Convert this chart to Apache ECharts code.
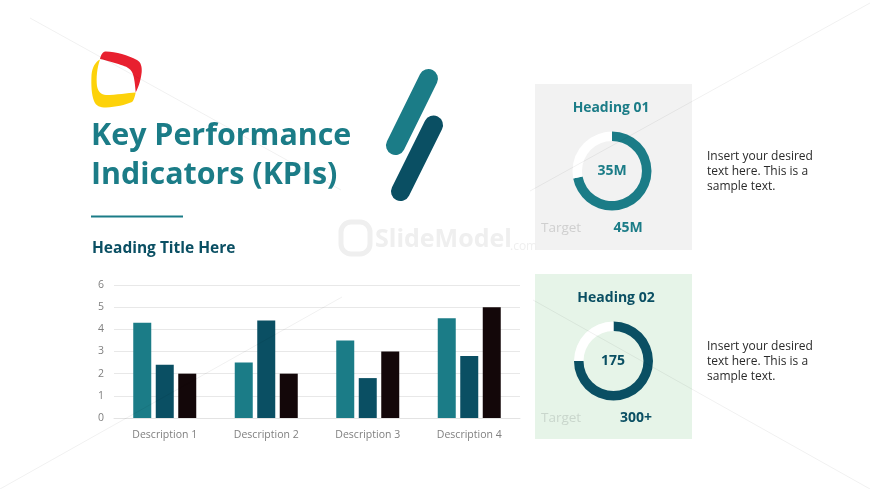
<!DOCTYPE html>
<html>
<head>
<meta charset="utf-8">
<title>Key Performance Indicators (KPIs)</title>
<style>
	html, body { margin: 0; padding: 0; background: #fff; }
	#main { width: 870px; height: 489px; }
</style>
<script src="https://cdn.jsdelivr.net/npm/echarts@6/dist/echarts.min.js"></script>
</head>
<body>
<div id="main"></div>
<script>
var categories = ["Description 1", "Description 2", "Description 3", "Description 4"];
var series1 = [4.3, 2.5, 3.5, 4.5];
var series2 = [2.4, 4.4, 1.8, 2.8];
var series3 = [2, 2, 3, 5];
var donut1 = [72, 28];
var donut2 = [75, 25];

var TEAL = "#1b7c87";
var DARK = "#0a4f63";
var BLACK = "#130709";
var FAINT = "rgba(0,0,0,0.06)";
var FONT = "'Open Sans', 'Noto Sans', sans-serif";

function label(text, x, y, size, color, weight, align) {
	return {
		type: "text",
		z: 10,
		silent: true,
		style: {
			x: x,
			y: y,
			text: text,
			fill: color,
			font: (weight || "normal") + " " + size + "px " + FONT,
			textAlign: align || "left",
			textVerticalAlign: "middle",
			lineHeight: 15
		}
	};
}

function stroke(x1, y1, x2, y2, color, width, cap, z) {
	return {
		type: "line",
		silent: true,
		z: z || 1,
		shape: { x1: x1, y1: y1, x2: x2, y2: y2 },
		style: { stroke: color, lineWidth: width, lineCap: cap || "butt" }
	};
}

function card(x, y, w, h, color) {
	return {
		type: "rect",
		silent: true,
		z: 0,
		shape: { x: x, y: y, width: w, height: h },
		style: { fill: color }
	};
}

// logo outline: start point, then cubic segments, flattened for a polygon
function flatten(start, segs) {
	var pts = [start];
	var p = start;
	segs.forEach(function(s) {
		for (var i = 1; i <= 8; i++) {
			var t = i / 8, u = 1 - t;
			pts.push([
				u * u * u * p[0] + 3 * u * u * t * s[0] + 3 * u * t * t * s[2] + t * t * t * s[4],
				u * u * u * p[1] + 3 * u * u * t * s[1] + 3 * u * t * t * s[3] + t * t * t * s[5]
			]);
		}
		p = [s[4], s[5]];
	});
	return pts;
}

function blob(points, color) {
	return {
		type: "polygon",
		silent: true,
		z: 3,
		shape: { points: points },
		style: { fill: color }
	};
}

function donut(name, values, cx, cy, color) {
	return {
		name: name,
		type: "pie",
		silent: true,
		center: [cx, cy],
		radius: [30, 39.5],
		startAngle: 90,
		clockwise: true,
		label: { show: false },
		labelLine: { show: false },
		data: [
			{ value: values[0], itemStyle: { color: color } },
			{ value: values[1], itemStyle: { color: "#ffffff" } }
		]
	};
}

function bars(name, values, color) {
	return {
		name: name,
		type: "bar",
		barWidth: 18,
		barGap: "25%",
		itemStyle: { color: color },
		data: values
	};
}

var logoRed = flatten([100, 59], [
	[101, 54, 103, 51.5, 106, 51.5],
	[116, 52, 128, 55, 137, 60],
	[141, 62, 142, 67, 141.7, 72],
	[141, 79, 139, 86, 135.7, 92.5],
	[135, 85, 134.5, 78, 132.5, 73],
	[130, 68, 126, 66.5, 121, 65],
	[114, 62.5, 107, 60.5, 100, 59]
]);
var logoYellow = flatten([100, 59.5], [
	[95, 62, 92, 68, 91.5, 75],
	[91, 85, 91.5, 95, 94, 101],
	[96, 106, 100, 107.5, 106, 107.5],
	[116, 107, 125, 105, 132, 102],
	[134, 100, 135, 96, 135.7, 92.5],
	[128, 93, 116, 95, 106, 95],
	[101, 94.5, 98, 92, 97, 86],
	[96, 78, 97, 68, 100, 59.5]
]);

var graphics = [
	card(535, 84, 157, 166, "#f2f2f2"),
	card(535, 274, 157, 165, "#e6f4e8"),

	// watermark
	{
		type: "rect",
		silent: true,
		z: 1,
		shape: { x: 341, y: 222, width: 29, height: 32, r: 10 },
		style: { fill: "none", stroke: "#efefef", lineWidth: 5 }
	},
	{
		type: "text",
		silent: true,
		z: 1,
		style: { x: 375, y: 240, text: "SlideModel", fill: "#efefef", font: "bold 25px " + FONT, textVerticalAlign: "middle" }
	},
	{
		type: "text",
		silent: true,
		z: 1,
		style: { x: 510, y: 247, text: ".com", fill: "#efefef", font: "normal 12px " + FONT, textVerticalAlign: "middle" }
	},

	// faint slide background lines, these run over the cards too
	stroke(30, 18, 341, 190, FAINT, 1, "butt", 5),
	stroke(0, 489, 342, 297, FAINT, 1, "butt", 5),
	stroke(530, 191, 870, 3, FAINT, 1, "butt", 5),
	stroke(533, 300, 870, 489, FAINT, 1, "butt", 5),

	blob(logoRed, "#e8202f"),
	blob(logoYellow, "#fdd20a"),

	// slanted pills
	stroke(428.5, 78.5, 395.5, 145.5, TEAL, 19, "round"),
	stroke(433.5, 125, 400.5, 191.5, DARK, 19, "round"),

	// rule under the title
	stroke(91, 216.5, 183, 216.5, TEAL, 2),

	label("Key Performance", 91, 136.5, 30.4, TEAL, "bold"),
	label("Indicators (KPIs)", 91, 175.5, 30.4, TEAL, "bold"),
	label("Heading Title Here", 92, 249, 15.5, DARK, "bold"),

	label("Heading 01", 611, 108, 13.9, TEAL, "bold", "center"),
	label("35M", 612, 171, 14, TEAL, "bold", "center"),
	label("Target", 541, 228, 13.5, "#cfcfcf"),
	label("45M", 628, 228, 14, TEAL, "bold", "center"),
	label("Insert your desired\ntext here. This is a\nsample text.", 707, 172, 12, "#2a2a2a"),

	label("Heading 02", 616, 298, 14, DARK, "bold", "center"),
	label("175", 613, 361, 14, DARK, "bold", "center"),
	label("Target", 541, 418, 13.5, "#c9d6cc"),
	label("300+", 636, 418, 14, DARK, "bold", "center"),
	label("Insert your desired\ntext here. This is a\nsample text.", 707, 362, 12, "#2a2a2a")
];

var chart = echarts.init(document.getElementById("main"));
chart.setOption({
	animation: false,
	backgroundColor: "#ffffff",
	grid: { left: 114, right: 350, top: 285, height: 133 },
	xAxis: {
		type: "category",
		data: categories,
		axisTick: { show: false },
		axisLine: { lineStyle: { color: "#e3e3e3", width: 1 } },
		axisLabel: { color: "#7f7f7f", fontSize: 10.5, fontFamily: FONT, margin: 12 }
	},
	yAxis: {
		type: "value",
		min: 0,
		max: 6,
		interval: 1,
		axisLine: { show: false },
		axisTick: { show: false },
		axisLabel: { color: "#7f7f7f", fontSize: 10.5, fontFamily: FONT, margin: 10 },
		splitLine: { lineStyle: { color: "#e8e8e8", width: 1 } }
	},
	graphic: graphics,
	series: [
		bars("Series 1", series1, TEAL),
		bars("Series 2", series2, DARK),
		bars("Series 3", series3, BLACK),
		donut("Heading 01", donut1, 612, 171, TEAL),
		donut("Heading 02", donut2, 613.5, 361, DARK)
	]
});
</script>
</body>
</html>
